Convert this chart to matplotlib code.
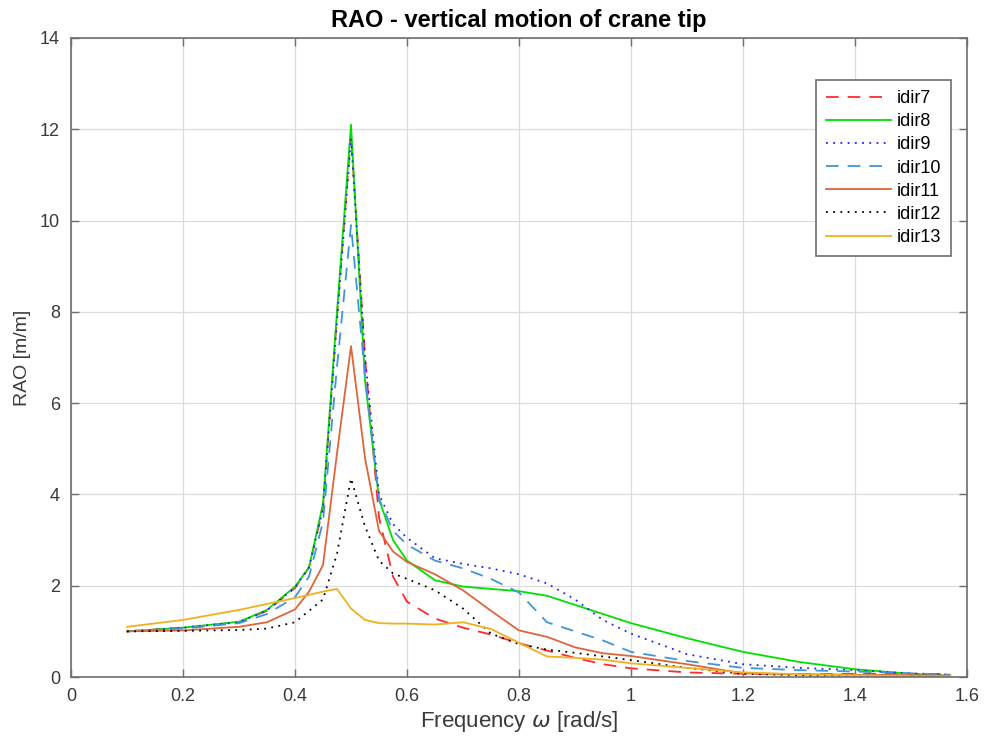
import numpy as np
import matplotlib
matplotlib.use('Agg')
import matplotlib.pyplot as plt
from matplotlib import font_manager

# frequency grid [rad/s]
w = [0.1, 0.2, 0.3, 0.35, 0.4, 0.425, 0.45, 0.475, 0.5, 0.525, 0.55, 0.575, 0.6,
     0.65, 0.7, 0.75, 0.8, 0.85, 0.9, 0.95, 1.0, 1.1, 1.2, 1.3, 1.4, 1.5, 1.57]

idir7 = [1.0, 1.08, 1.2, 1.45, 1.95, 2.4, 3.7, 7.9, 11.9, 7.0, 3.5, 2.2, 1.65,
         1.28, 1.08, 0.93, 0.74, 0.58, 0.42, 0.28, 0.19, 0.1, 0.07, 0.06, 0.07, 0.07, 0.06]
idir8 = [1.0, 1.08, 1.21, 1.47, 1.98, 2.4, 3.8, 8.0, 12.1, 6.5, 3.9, 3.0, 2.55,
         2.12, 1.98, 1.93, 1.88, 1.78, 1.58, 1.38, 1.18, 0.85, 0.55, 0.33, 0.17, 0.07, 0.03]
idir9 = [1.0, 1.08, 1.2, 1.46, 1.96, 2.4, 3.7, 7.8, 11.8, 7.0, 4.0, 3.35, 3.05,
         2.6, 2.48, 2.38, 2.25, 2.05, 1.7, 1.25, 0.95, 0.5, 0.28, 0.2, 0.15, 0.08, 0.05]
idir10 = [1.0, 1.06, 1.18, 1.38, 1.75, 2.2, 3.4, 6.8, 9.9, 6.6, 3.9, 3.2, 2.9,
          2.55, 2.38, 2.15, 1.85, 1.2, 1.0, 0.8, 0.55, 0.35, 0.2, 0.15, 0.12, 0.08, 0.05]
idir11 = [1.0, 1.02, 1.1, 1.2, 1.48, 1.87, 2.45, 4.9, 7.25, 4.8, 3.2, 2.75, 2.52,
          2.25, 1.9, 1.45, 1.02, 0.88, 0.65, 0.52, 0.46, 0.28, 0.08, 0.06, 0.05, 0.04, 0.03]
idir12 = [1.0, 1.01, 1.03, 1.06, 1.2, 1.45, 1.7, 2.7, 4.35, 3.3, 2.55, 2.27, 2.15,
          1.9, 1.5, 0.95, 0.72, 0.6, 0.53, 0.45, 0.37, 0.2, 0.07, 0.04, 0.03, 0.02, 0.02]
idir13 = [1.1, 1.25, 1.47, 1.6, 1.73, 1.8, 1.87, 1.93, 1.5, 1.25, 1.18, 1.17, 1.17,
          1.15, 1.2, 1.05, 0.75, 0.45, 0.42, 0.38, 0.3, 0.2, 0.1, 0.06, 0.04, 0.02, 0.02]

series = [
    ('idir7', idir7, '#ff2a2a', (0, (7, 5))),
    ('idir8', idir8, '#00e000', '-'),
    ('idir9', idir9, '#2020ff', (0, (1, 3))),
    ('idir10', idir10, '#3f95d8', (0, (7, 5))),
    ('idir11', idir11, '#e0643a', '-'),
    ('idir12', idir12, '#000000', (0, (1, 3))),
    ('idir13', idir13, '#f0b020', '-'),
]

names = [f.name for f in font_manager.fontManager.ttflist]
fam = 'Liberation Sans Narrow' if 'Liberation Sans Narrow' in names else 'Liberation Sans'
plt.rcParams['font.family'] = [fam, 'DejaVu Sans']
plt.rcParams['mathtext.fontset'] = 'dejavusans'

fig = plt.figure(figsize=(9.87, 7.45), dpi=100)
ax = fig.add_axes([71/987, 1 - 677/745, (967 - 71)/987, (677 - 38)/745])

for name, vals, col, ls in series:
    ax.plot(w, vals, color=col, linestyle=ls, linewidth=1.3, label=name)

ax.set_xlim(0, 1.6)
ax.set_ylim(0, 14)
ax.set_xticks(np.arange(0, 1.61, 0.2))
ax.set_xticklabels(['0', '0.2', '0.4', '0.6', '0.8', '1', '1.2', '1.4', '1.6'])
ax.set_yticks(np.arange(0, 15, 2))
ax.grid(True, color='#dcdcdc', linewidth=0.9)
ax.set_axisbelow(True)
for s in ax.spines.values():
    s.set_color('#6e6e6e')
    s.set_linewidth(1.2)
ax.tick_params(direction='in', top=True, right=True, length=6, width=1.0,
               color='#6e6e6e', labelcolor='#3a3a3a', labelsize=13, pad=8)

ax.set_title('RAO - vertical motion of crane tip', fontsize=17, fontweight='bold', pad=8)
ax.set_xlabel(r'Frequency $\omega$ [rad/s]', fontsize=16, color='#3a3a3a', labelpad=3)
ax.set_ylabel('RAO [m/m]', fontsize=14, color='#3a3a3a', labelpad=6)

leg = ax.legend(loc='upper right', bbox_to_anchor=(0.982, 0.934), borderaxespad=0,
                fontsize=13, handlelength=3.6, handletextpad=0.3, labelspacing=0.34,
                fancybox=False, framealpha=1, borderpad=0.55)
leg.get_frame().set_edgecolor('#6e6e6e')
leg.get_frame().set_linewidth(1.2)

fig.savefig('out.png', dpi=100)
